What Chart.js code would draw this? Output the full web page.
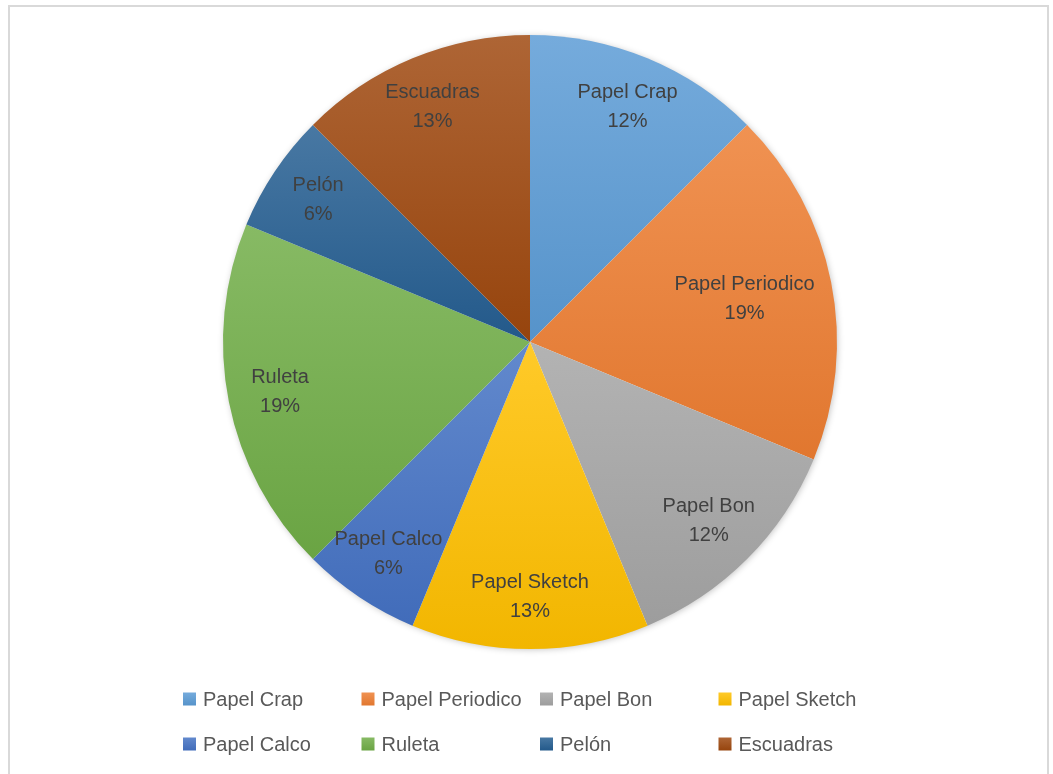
<!DOCTYPE html>
<html>
<head>
<meta charset="utf-8">
<script src="https://cdn.jsdelivr.net/npm/chart.js@4/dist/chart.umd.min.js"></script>
<style>
  html, body { margin: 0; padding: 0; background: #fff; }
  #frame {
    position: absolute; left: 8px; top: 5px;
    width: 1041px; height: 800px;
    border: 2px solid #d9d9d9; box-sizing: border-box;
  }
  #wrap { position: absolute; left: 0; top: 0; width: 1053px; height: 774px; }
</style>
</head>
<body>
<div id="frame"></div>
<div id="wrap"><canvas id="chartPie"></canvas></div>
<script>
// datos del gráfico
const categorias = ['Papel Crap', 'Papel Periodico', 'Papel Bon', 'Papel Sketch',
                    'Papel Calco', 'Ruleta', 'Pelón', 'Escuadras'];
const cantidades = [2, 3, 2, 2, 1, 3, 1, 2];
const porcentajes = ['12%', '19%', '12%', '13%', '6%', '19%', '6%', '13%'];
const colores = ['#5b9bd5', '#ed7d31', '#a5a5a5', '#ffc000',
                 '#4472c4', '#70ad47', '#255e91', '#9e480e'];

const FONT = '"Liberation Sans", Arial, sans-serif';

function mix(hex, target, t) {
  const n = parseInt(hex.slice(1), 16);
  const r = (n >> 16) & 255, g = (n >> 8) & 255, b = n & 255;
  const f = c => Math.round(c + (target - c) * t);
  return `rgb(${f(r)},${f(g)},${f(b)})`;
}

/* ------------------------------
 * relleno degradado por sector + sombra
 * ------------------------------ */
const gradientPlugin = {
  id: 'gradientFill',
  beforeDatasetsDraw(chart) {
    const { ctx } = chart;
    const arcs = chart.getDatasetMeta(0).data;
    if (!arcs.length) return;
    const a0 = arcs[0];
    // sombra suave alrededor del círculo
    ctx.save();
    ctx.shadowColor = 'rgba(0,0,0,0.28)';
    ctx.shadowBlur = 7;
    ctx.shadowOffsetX = 1;
    ctx.shadowOffsetY = 1;
    ctx.fillStyle = '#ffffff';
    ctx.beginPath();
    ctx.arc(a0.x, a0.y, a0.outerRadius - 1, 0, Math.PI * 2);
    ctx.fill();
    ctx.restore();

    arcs.forEach((arc, i) => {
      const { x, y, startAngle, endAngle, outerRadius: r } = arc;
      const ys = [y, y + r * Math.sin(startAngle), y + r * Math.sin(endAngle)];
      for (let k = -2; k <= 4; k++) {
        const ang = Math.PI / 2 + k * Math.PI;
        if (ang > startAngle && ang < endAngle) ys.push(y + r * Math.sin(ang));
      }
      const y0 = Math.min(...ys), y1 = Math.max(...ys);
      const g = ctx.createLinearGradient(0, y0, 0, y1);
      g.addColorStop(0, mix(colores[i], 255, 0.16));
      g.addColorStop(1, mix(colores[i], 0, 0.05));
      arc.options.backgroundColor = g;
    });
  }
};

/* ------------------------------
 * etiquetas de datos dentro de los sectores
 * ------------------------------ */
const labelPlugin = {
  id: 'sliceLabels',
  afterDatasetsDraw(chart) {
    const { ctx } = chart;
    const arcs = chart.getDatasetMeta(0).data;
    ctx.save();
    ctx.font = `20px ${FONT}`;
    ctx.fillStyle = '#404040';
    ctx.textAlign = 'center';
    ctx.textBaseline = 'middle';
    const lh = 29;
    arcs.forEach((arc, i) => {
      const { x, y, startAngle, endAngle, outerRadius: r } = arc;
      const mid = (startAngle + endAngle) / 2;
      const w = Math.max(ctx.measureText(categorias[i]).width,
                         ctx.measureText(porcentajes[i]).width);
      const lim = r - 18;
      let d = r * 0.83;
      // acercar al centro si el texto se sale del círculo
      for (; d > 0; d -= 2) {
        const cx = x + d * Math.cos(mid), cy = y + d * Math.sin(mid);
        const ok = [-1, 1].every(s => {
          const px = cx + s * w / 2 - x, py = cy - y;
          return px * px + py * py <= lim * lim;
        });
        if (ok) break;
      }
      const cx = x + d * Math.cos(mid), cy = y + d * Math.sin(mid);
      ctx.fillText(categorias[i], cx, cy - lh / 2);
      ctx.fillText(porcentajes[i], cx, cy + lh / 2);
    });
    ctx.restore();
  }
};

/* ------------------------------
 * leyenda en cuadrícula (4 columnas)
 * ------------------------------ */
const legendPlugin = {
  id: 'gridLegend',
  afterDraw(chart) {
    const { ctx } = chart;
    const x0 = 183, colW = 178.5, rows = [699, 744], box = 13;
    ctx.save();
    ctx.font = `20px ${FONT}`;
    ctx.textBaseline = 'middle';
    ctx.textAlign = 'left';
    categorias.forEach((c, i) => {
      const bx = x0 + (i % 4) * colW;
      const by = rows[Math.floor(i / 4)];
      const g = ctx.createLinearGradient(0, by - box / 2, 0, by + box / 2);
      g.addColorStop(0, mix(colores[i], 255, 0.16));
      g.addColorStop(1, mix(colores[i], 0, 0.05));
      ctx.fillStyle = g;
      ctx.fillRect(bx, by - box / 2, box, box);
      ctx.fillStyle = '#595959';
      ctx.fillText(c, bx + 20, by + 1);
    });
    ctx.restore();
  }
};

new Chart(document.getElementById('chartPie'), {
  type: 'pie',
  data: {
    labels: categorias,
    datasets: [{
      data: cantidades,
      backgroundColor: colores,
      borderWidth: 0
    }]
  },
  options: {
    responsive: true,
    maintainAspectRatio: false,
    animation: false,
    layout: { padding: { left: 7, right: 0, top: 35, bottom: 125 } },
    plugins: {
      legend: { display: false },
      tooltip: { enabled: false }
    }
  },
  plugins: [gradientPlugin, labelPlugin, legendPlugin]
});
</script>
</body>
</html>
